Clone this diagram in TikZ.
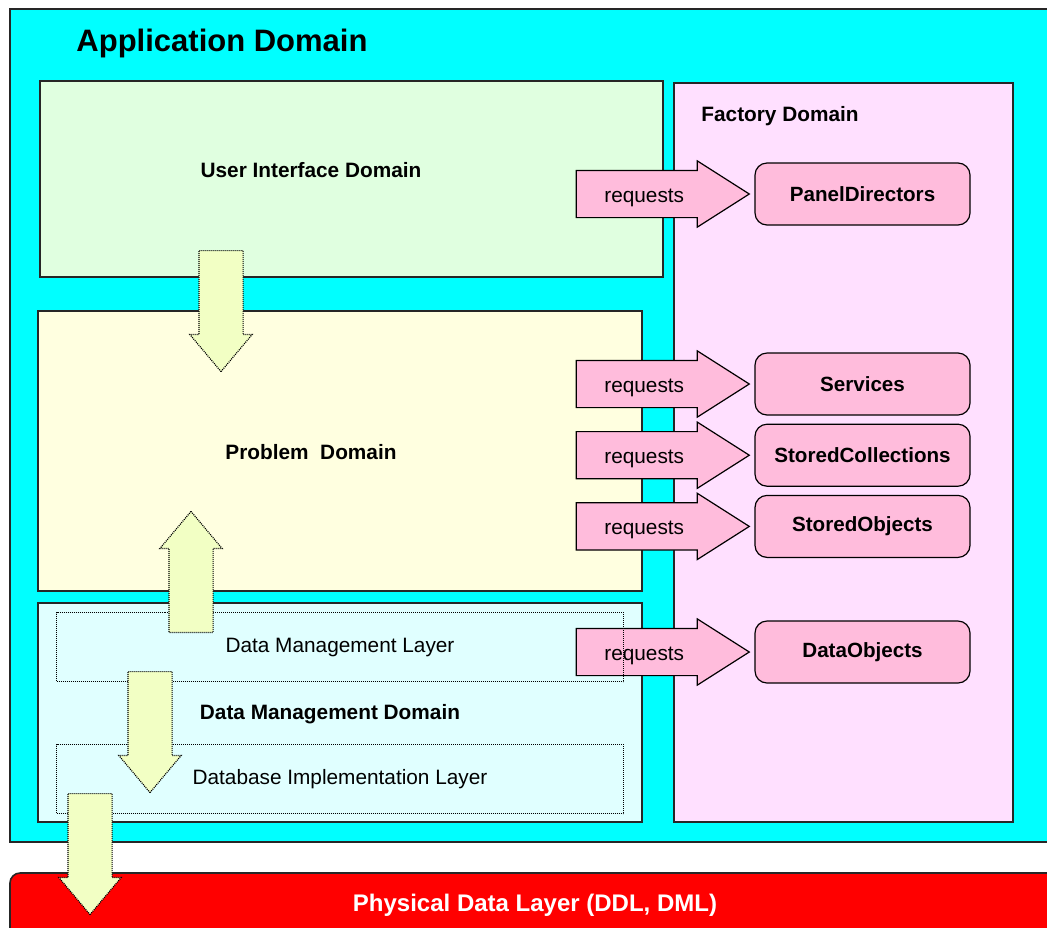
\documentclass[tikz,border=0pt]{standalone}
\usepackage{fontspec}
\setmainfont{Liberation Sans}
\usetikzlibrary{positioning,fit,shapes.arrows}

\definecolor{appcyan}{RGB}{0,255,255}
\definecolor{uigreen}{RGB}{224,255,224}
\definecolor{pdyellow}{RGB}{255,255,224}
\definecolor{dmcyan}{RGB}{224,255,255}
\definecolor{fdpink}{RGB}{255,224,255}
\definecolor{reqpink}{RGB}{255,188,220}
\definecolor{flowyellow}{RGB}{242,255,196}
\definecolor{physred}{RGB}{255,0,0}

\tikzset{
  finedots/.style={dash pattern=on 0.5pt off 0.5pt},
  domainbox/.style={draw=black!85, line width=0.8pt, inner sep=0pt},
  domlabel/.style={font=\fontsize{10.4}{12}\selectfont\bfseries},
  layerbox/.style={
    draw, finedots, line width=0.5pt,
    minimum width=283.5pt, minimum height=34.5pt,
    anchor=north west,
    font=\fontsize{10.4}{12}\selectfont},
  factorybox/.style={
    rectangle, rounded corners=6pt,
    draw, line width=0.6pt, fill=reqpink,
    minimum width=107.5pt, minimum height=31pt,
    font=\fontsize{10.3}{12}\selectfont\bfseries},
  reqarrow/.style={
    single arrow, draw, line width=0.6pt, fill=reqpink,
    single arrow tip angle=65, single arrow head extend=4.75pt,
    minimum height=86.5pt, minimum width=32.5pt,
    text height=9pt, text depth=0.5pt, inner ysep=6.75pt,
    font=\fontsize{10.4}{12}\selectfont},
  flowarrow/.style={
    single arrow, draw, finedots, line width=0.6pt, fill=flowyellow,
    single arrow tip angle=80, single arrow head extend=4.5pt,
    minimum height=60.5pt, minimum width=30.5pt, inner sep=10.75pt,
    anchor=tail},
}

\begin{document}
\begin{tikzpicture}
  [x=0.5pt, y=-0.5pt, node distance=4pt]
  \useasboundingbox (0,0) rectangle (1047,927);

  % outer domain
  \node[domainbox, fill=appcyan, fit={(10,9) (1070,842)}] (app) {};
  \node[font=\fontsize{15.5}{18}\selectfont\bfseries] (apptitle) at (222,43) {Application Domain};

  \node[domainbox, fill=uigreen, fit={(40,81) (663,277)}] (ui) {};
  \node[domlabel] (uilabel) at (311,170) {User Interface Domain};
  \node[domainbox, fill=pdyellow, fit={(38,311) (642,591)}] (pd) {};
  \node[domlabel] (pdlabel) at (311,452) {Problem\ \ Domain};
  \node[domainbox, fill=dmcyan, fit={(38,603) (642,822)}] (dm) {};
  \node[domlabel] (dmlabel) at (330,714) {Data Management Domain};
  \node[domainbox, fill=fdpink, fit={(674,83) (1013,822)}] (fd) {};
  \node[domlabel] (fdlabel) at (780,116) {Factory Domain};

  \node[domainbox, fill=physred, rounded corners=5pt, fit={(10,873) (1080,990)}] (phys) {};
  \node[font=\fontsize{12}{14}\selectfont\bfseries, text=white] (physlabel) at (535,905) {Physical Data Layer (DDL, DML)};

  % factory products
  \node[factorybox] (paneldir) at (862.5,194) {PanelDirectors};
  \node[factorybox] (services) at (862.5,384) {Services};
  \node[factorybox, below=of services] (storedcoll) {StoredCollections};
  \node[factorybox, below=of storedcoll] (storedobj) {StoredObjects};
  \node[factorybox] (dataobj) at (862.5,652) {DataObjects};

  \node[reqarrow, left=2pt of paneldir] (req1) {requests};
  \node[reqarrow, left=2pt of services] (req2) {requests};
  \node[reqarrow, left=2pt of storedcoll] (req3) {requests};
  \node[reqarrow, left=2pt of storedobj] (req4) {requests};
  \node[reqarrow, left=2pt of dataobj] (req5) {requests};

  % layers of the data management domain
  \node[layerbox] (dml) at (56,612) {Data Management Layer};
  \node[layerbox] (dil) at (56,744) {Database Implementation Layer};

  % flow between the domains
  \node[flowarrow, shape border rotate=270] (uitopd) at (221,250) {};
  \node[flowarrow, shape border rotate=90] (dmtopd) at (191,633) {};
  \node[flowarrow, shape border rotate=270] (dmltodil) at (150,671) {};
  \node[flowarrow, shape border rotate=270] (diltophys) at (90,793) {};
\end{tikzpicture}
\end{document}
